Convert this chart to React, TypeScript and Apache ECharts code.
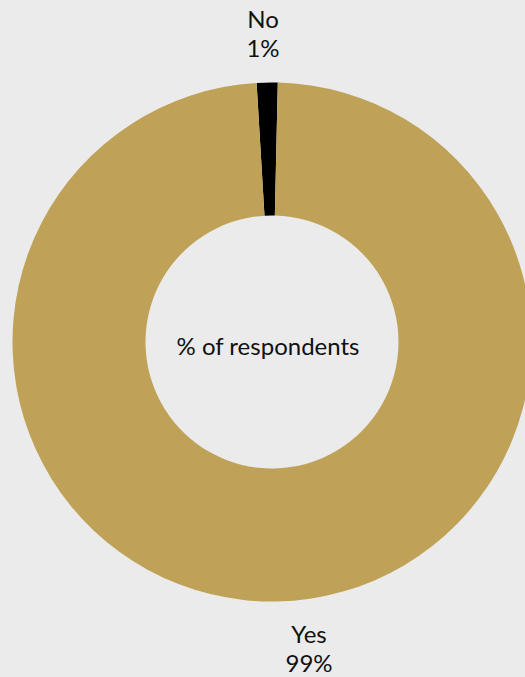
import React, { useEffect, useRef } from "react";
import * as echarts from "echarts";

const categories = ["No", "Yes"];
const values = [1.3, 98.7];
const colors = ["#000000", "#bfa257"];
const centerLabel = "% of respondents";

export default function App() {
  const ref = useRef<HTMLDivElement>(null);
  useEffect(() => {
    document.body.style.margin = "0";
    document.body.style.background = "#ebebeb";
    const chart = echarts.init(ref.current!, null, { renderer: "svg" });
    const font = "Lato";
    chart.setOption({
      animation: false,
      backgroundColor: "#ebebeb",
      graphic: [
        {
          type: "text",
          x: 268,
          y: 345,
          style: {
            text: centerLabel,
            fontFamily: font,
            fontSize: 24,
            fill: "#111",
            align: "center",
            verticalAlign: "middle",
          },
        },
      ],
      series: [
        {
          type: "pie",
          center: [272, 342],
          radius: [126.5, 259.5],
          startAngle: 93.4,
          clockwise: true,
          avoidLabelOverlap: false,
          labelLine: { show: false },
          label: {
            show: true,
            position: "outside",
            formatter: (p: any) => `${p.name}\n${Math.round(p.value)}%`,
            fontFamily: font,
            fontSize: 24,
            lineHeight: 29,
            color: "#111",
            align: "center",
          },
          labelLayout: (p: any) =>
            p.dataIndex === 0
              ? { x: 263, y: 33, align: "center", verticalAlign: "middle" }
              : { x: 309, y: 648, align: "center", verticalAlign: "middle" },
          emphasis: { disabled: true },
          data: categories.map((c, i) => ({
            name: c,
            value: values[i],
            itemStyle: { color: colors[i] },
          })),
        },
      ],
    });
    return () => chart.dispose();
  }, []);
  return (
    <div
      ref={ref}
      style={{ position: "absolute", left: 0, top: 0, width: 525, height: 677 }}
    />
  );
}
